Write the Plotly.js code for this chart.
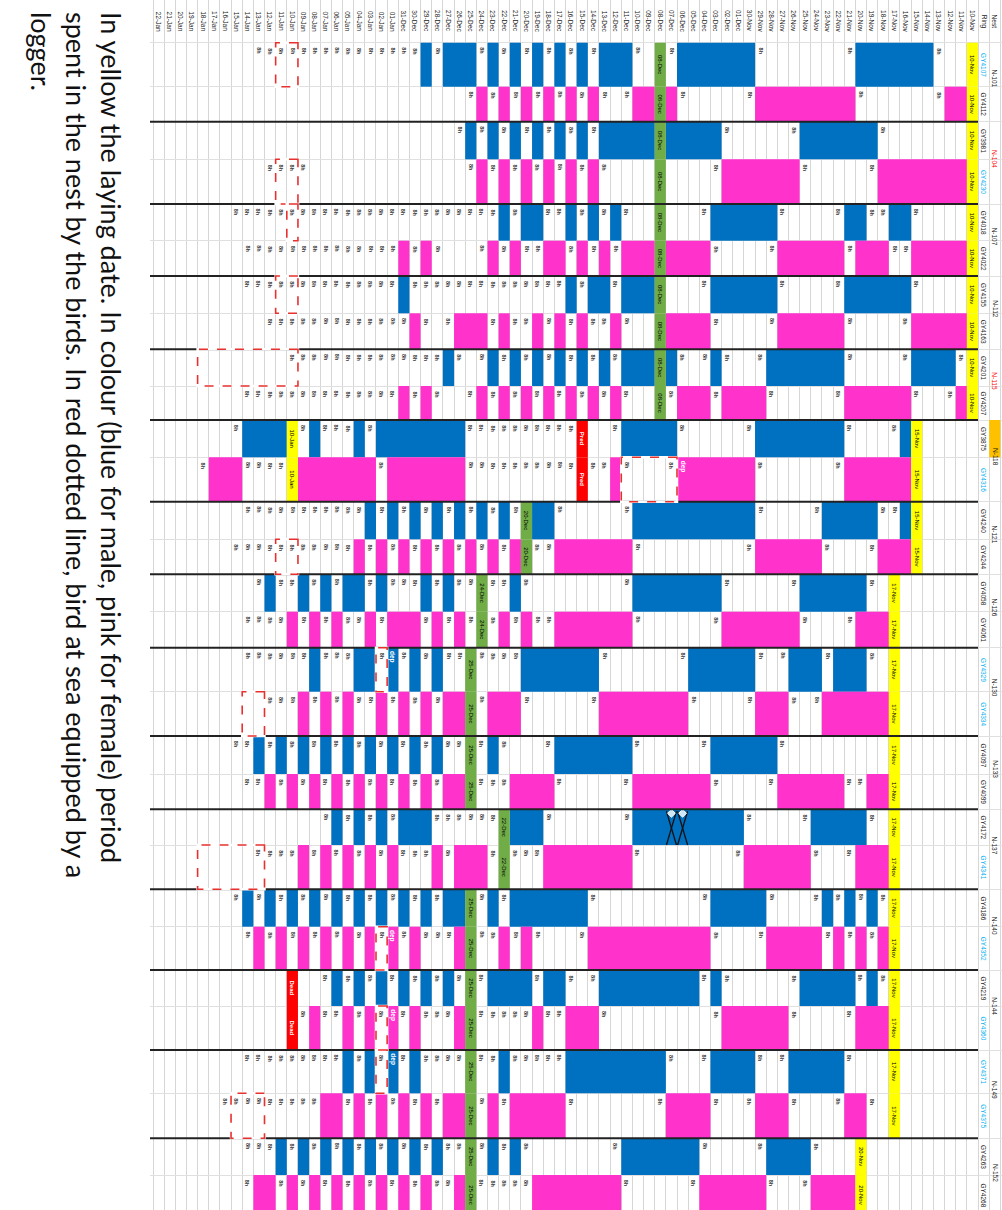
<!DOCTYPE html>
<html>
<head>
<meta charset="utf-8">
<script src="https://cdn.plot.ly/plotly-3.0.1.min.js"></script>
<style>html,body{margin:0;padding:0;background:#fff;}#chart{width:1002px;height:1210px;}</style>
</head>
<body>
<div id="chart"></div>
<script>
// ---------------- DATA ----------------
// Day columns (index 0 = first laying column, time runs towards higher index)
const DATES = [
"10-Nov","11-Nov","12-Nov","13-Nov","14-Nov","15-Nov","16-Nov","17-Nov","18-Nov","19-Nov",
"20-Nov","21-Nov","22-Nov","23-Nov","24-Nov","25-Nov","26-Nov","27-Nov","28-Nov","29-Nov",
"30-Nov","01-Dec","02-Dec","03-Dec","04-Dec","05-Dec","06-Dec","07-Dec","08-Dec","09-Dec",
"10-Dec","11-Dec","12-Dec","13-Dec","14-Dec","15-Dec","16-Dec","17-Dec","18-Dec","19-Dec",
"20-Dec","21-Dec","22-Dec","23-Dec","24-Dec","25-Dec","26-Dec","27-Dec","28-Dec","29-Dec",
"30-Dec","31-Dec","01-Jan","02-Jan","03-Jan","04-Jan","05-Jan","06-Jan","07-Jan","08-Jan",
"09-Jan","10-Jan","11-Jan","12-Jan","13-Jan","14-Jan","15-Jan","16-Jan","17-Jan","18-Jan",
"19-Jan","20-Jan","21-Jan","22-Jan"
];

// One nest per band: male row then female row
const NEST_IDS = ["N-101","N-104","N-107","N-112","N-115","N-118","N-121","N-126","N-130","N-133","N-137","N-140","N-144","N-149","N-152"];
const NEST_ID_RED = [false,true,false,false,true,false,false,false,false,false,false,false,false,false,false];
const NEST_ID_ORANGE = [false,false,false,false,false,true,false,false,false,false,false,false,false,false,false];
const BIRD_IDS = [
"GY4107","GY4112","GY3981","GY4230","GY4018","GY4022","GY4155","GY4163","GY4201","GY4207",
"GY3875","GY4316","GY4240","GY4244","GY4058","GY4061","GY4329","GY4334","GY4097","GY4099",
"GY4172","GY4341","GY4186","GY4352","GY4219","GY4360","GY4371","GY4375","GY4263","GY4268"
];
const BIRD_ID_LOGGER = [true,false,false,true,false,false,false,false,false,false,
                        false,true,false,false,false,false,true,true,false,false,
                        false,true,false,true,false,true,true,true,false,false];

// Laying date column(s) per nest, hatching column per nest (null = failed)
const LAYING = [[0],[0],[0],[0],[0],[5,61],[5],[7],[7],[7],[7],[7],[7],[7],[10]];
const HATCH  = [28,28,28,28,28,null,40,44,45,45,42,45,45,45,45];

// Periods in the nest [from, to] (day columns, inclusive)
const MALE = [
 [[4,10],[20,26],[31,33],[35,35],[37,37],[39,39],[41,41],[43,43],[45,47],[49,49]],
 [[9,15],[23,27],[29,33],[35,35],[37,37],[39,39],[41,41],[43,43],[45,45]],
 [[6,7],[10,11],[18,23],[32,32],[34,34],[36,36],[39,40],[42,42]],
 [[6,11],[18,23],[29,31],[33,34],[36,36],[51,51]],
 [[2,5],[12,18],[23,23],[27,27],[29,31],[33,33],[35,35],[37,37],[39,39],[41,41],[43,43],[47,47]],
 [[6,6],[12,19],[27,31],[46,53],[55,55],[59,59],[62,65]],
 [[6,6],[9,13],[20,30],[38,39],[42,42],[44,44],[46,46],[48,48],[50,50],[52,52],[54,54]],
 [[10,15],[23,30],[41,41],[47,47],[49,49],[53,53],[55,56],[58,58],[60,60],[63,63]],
 [[10,12],[14,16],[20,25],[34,40],[48,48],[50,50],[52,52],[54,55],[59,59]],
 [[18,23],[31,37],[43,43],[48,48],[50,50],[52,52],[54,54],[56,56],[58,58],[60,60],[62,62],[64,64]],
 [[10,14],[21,30],[39,41],[49,51],[53,53],[55,55],[57,57]],
 [[9,9],[11,11],[13,13],[19,23],[35,41],[43,43],[46,47],[49,49],[51,51],[53,53],[55,55],[57,57],[59,59],[61,61],[63,63],[65,65]],
 [[9,9],[11,15],[23,23],[25,33],[37,38],[40,43],[47,47],[49,49],[51,51],[53,53],[55,55],[57,57]],
 [[12,16],[20,23],[28,36],[42,42],[50,50],[52,52],[54,54],[56,56]],
 [[15,18],[25,31],[41,41],[43,43],[48,48],[50,50],[52,52],[54,54],[56,56],[58,58],[60,60],[62,62]]
];
const FEMALE = [
 [[1,2],[11,19],[27,27],[29,30],[34,34],[36,36],[38,38],[40,40],[42,42],[44,44]],
 [[1,8],[16,22],[34,34],[36,36],[38,38],[40,40],[42,42],[44,44]],
 [[1,5],[8,10],[12,17],[24,27],[29,31],[33,33],[35,35],[37,38],[41,41],[43,43],[49,49],[51,51]],
 [[1,5],[12,17],[24,27],[32,32],[35,35],[37,37],[39,39],[42,42],[44,46],[50,50]],
 [[1,1],[6,11],[19,22],[24,26],[32,32],[34,34],[36,36],[38,38],[40,40],[42,42],[44,44],[49,49],[51,51]],
 [[6,11],[20,26],[32,32],[46,52],[54,60],[66,68]],
 [[6,8],[14,19],[31,37],[41,41],[43,43],[45,45],[47,47],[49,49],[51,51],[53,53],[55,55]],
 [[8,10],[16,22],[31,37],[40,40],[42,42],[46,46],[48,48],[50,52],[54,54],[57,57],[59,59],[61,61]],
 [[8,13],[17,19],[26,33],[41,43],[46,47],[49,49],[51,51],[53,53],[56,56],[58,58],[60,60]],
 [[8,9],[12,17],[24,30],[38,41],[46,47],[49,49],[51,51],[53,53],[55,55],[57,57],[59,59],[61,61],[63,63]],
 [[8,10],[15,20],[31,38],[44,46],[48,48],[52,52],[54,54],[56,56],[58,58],[60,60]],
 [[8,8],[10,10],[12,12],[14,18],[24,34],[40,40],[42,42],[46,46],[50,50],[52,52],[54,54],[56,56],[58,58],[60,60],[62,62],[64,64]],
 [[8,10],[17,22],[34,36],[39,39],[46,46],[50,50],[52,52],[54,54],[56,56],[59,59]],
 [[10,11],[17,19],[24,27],[37,41],[43,43],[46,47],[49,49],[51,51],[53,53],[55,55],[57,58]],
 [[11,14],[19,24],[32,39],[46,46],[49,49],[51,51],[53,53],[55,55],[57,57],[59,59],[61,61],[63,64]]
];

// Days with a written nest check, per bird row (male, female of each nest): [from, to] or null
const CHECK_SPAN = [
 [50,64], null, null, [60,63], [43,66], [52,65], [37,65], [51,63], [48,61], [52,65],
 [36,66], [33,65], [38,65], [38,66], [40,64], [38,65], [38,65], [40,63], [42,66], [42,65],
 [42,57], [39,64], [42,66], [39,65], [37,58], [38,60], [37,65], [37,67], [40,65], [40,65]
];
const CHECK_NOTE = "8h";

// Bird at sea with a logger: [nest, sex, from, to]
const AT_SEA = [
 [0,"M",61,62],[1,"F",61,62],[2,"M",61,61],[3,"M",61,62],[4,"M",61,69],
 [5,"F",27,31],[6,"F",61,62],[8,"M",53,53],[8,"F",64,65],[10,"F",64,69],
 [11,"F",53,53],[12,"F",53,53],[13,"M",53,53],[13,"F",64,66]
];
// Logger deployment notes: [nest, sex, day]
const DEP = [[5,"F",26],[8,"M",52],[11,"F",52],[12,"F",52],[13,"M",52]];
// Failures: [nest, day, label]
const EVENTS = [[5,35,"Pred"],[12,61,"Dead"]];
// Crossed-out days: [nest, sex, days]
const CROSSED = [[10,"M",[26,27]]];

const CAPTION = "In yellow the laying date. In colour (blue for male, pink for female) period<br>spent in the nest by the birds. In red dotted line, bird at sea equipped by a<br>logger.";

// ---------------- LAYOUT CONSTANTS ----------------
const HEADER_H = 42.7;
const ROW_H = [44,35,37.6,44.7,36.7,35.3,37.3,36,36.7,34,37.3,44.4,37.6,35,37.4,36,44,44.3,38,35.3,35.7,44.3,37.4,43.3,36,44,43.3,45,36.7,40];
const X_LEFT = 73.77, X_RIGHT = -2.65;
const C_BLUE = "#0070C0", C_PINK = "#FF33CC", C_YEL = "#FFFF00", C_GREEN = "#70AD47",
      C_RED = "#FF0000", C_ORANGE = "#FFC000", C_CYAN = "#00B0F0";
const TXT_FONT = "Liberation Sans, Arial, sans-serif";

const rowTop = []; { let a = HEADER_H; for (const h of ROW_H) { rowTop.push(a); a += h; } }
const rowMid = r => rowTop[r] + ROW_H[r] / 2;
const rowOf = (n, s) => 2 * n + (s === "M" ? 0 : 1);

function cellTrace(items, color, textColor, bold) {
  return {
    type: "bar", orientation: "h",
    y: items.map(d => d.y), width: items.map(d => d.h),
    base: items.map(d => d.a - 0.5), x: items.map(d => d.b - d.a + 1),
    marker: { color: color, line: { width: 0 } },
    text: items.map(d => d.t || ""),
    textposition: "inside", insidetextanchor: "middle", textangle: 90,
    constraintext: "none", cliponaxis: false,
    textfont: { size: 6, color: textColor, family: TXT_FONT, weight: bold ? 700 : 400 },
    hoverinfo: "skip", showlegend: false
  };
}
const rowItem = (r, a, b, t) => ({ y: rowMid(r), h: ROW_H[r], a, b, t });

const maleItems = [], femItems = [], layItems = [], hatchItems = [], evItems = [], orangeItems = [];
MALE.forEach((list, n) => list.forEach(([a, b]) => maleItems.push(rowItem(2 * n, a, b))));
FEMALE.forEach((list, n) => list.forEach(([a, b]) => femItems.push(rowItem(2 * n + 1, a, b))));
LAYING.forEach((list, n) => list.forEach(c => { layItems.push(rowItem(2 * n, c, c, DATES[c])); layItems.push(rowItem(2 * n + 1, c, c, DATES[c])); }));
HATCH.forEach((c, n) => { if (c !== null) { hatchItems.push(rowItem(2 * n, c, c, DATES[c])); hatchItems.push(rowItem(2 * n + 1, c, c, DATES[c])); } });
EVENTS.forEach(([n, c, lab]) => { evItems.push(rowItem(2 * n, c, c, lab)); evItems.push(rowItem(2 * n + 1, c, c, lab)); });
NEST_ID_ORANGE.forEach((f, n) => { if (f) orangeItems.push(rowItem(2 * n, -2, -2)); });

const traces = [
  cellTrace(maleItems, C_BLUE, "#000"),
  cellTrace(femItems, C_PINK, "#000"),
  cellTrace(layItems, C_YEL, "#000"),
  cellTrace(hatchItems, C_GREEN, "#000"),
  cellTrace(evItems, C_RED, "#fff", true),
  cellTrace(orangeItems, C_ORANGE, "#000")
];

// crossed-out marks
CROSSED.forEach(([n, s, days]) => {
  const r = rowOf(n, s), xs = [], ys = [];
  days.forEach(c => {
    xs.push(c + 0.45, c - 0.45, null, c - 0.45, c + 0.45, null);
    ys.push(rowTop[r] + ROW_H[r], rowTop[r] + 2, null, rowTop[r] + ROW_H[r], rowTop[r] + 2, null);
  });
  traces.push({ type: "scatter", mode: "lines", x: xs, y: ys, line: { color: "#111", width: 1.3 }, hoverinfo: "skip", showlegend: false });
  traces.push({ type: "scatter", mode: "markers", x: days, y: days.map(() => rowTop[r] + 4),
    marker: { color: "#cfe8f7", size: 6, symbol: "diamond", line: { color: "#fff", width: 1 } }, hoverinfo: "skip", showlegend: false });
});

// ---------------- SHAPES ----------------
const shapes = [];
for (let n = 1; n < NEST_IDS.length; n++) {
  shapes.push({ type: "line", xref: "x", yref: "y", x0: 75, x1: -0.5, y0: rowTop[2 * n], y1: rowTop[2 * n], line: { color: "#222", width: 2 } });
}
AT_SEA.forEach(([n, s, a, b]) => {
  const r = rowOf(n, s);
  shapes.push({ type: "rect", xref: "x", yref: "y", x0: a - 0.5, x1: b + 0.5, y0: rowTop[r], y1: rowTop[r] + ROW_H[r],
    line: { color: "#fff", width: 2.5 }, fillcolor: "rgba(0,0,0,0)" });
  shapes.push({ type: "rect", xref: "x", yref: "y", x0: a - 0.5, x1: b + 0.5, y0: rowTop[r], y1: rowTop[r] + ROW_H[r],
    line: { color: "#E8312F", width: 1.6, dash: "dash" }, fillcolor: "rgba(0,0,0,0)" });
});

// ---------------- ANNOTATIONS ----------------
const ann = [];
const small = (color, size, weight) => ({ size: size || 6.5, color: color || "#222", family: TXT_FONT, weight: weight || 400 });
DATES.forEach((d, c) => ann.push({ x: c, y: HEADER_H / 2, xref: "x", yref: "y", text: d, textangle: 90, showarrow: false, font: small() }));
ann.push({ x: -1, y: HEADER_H / 2, xref: "x", yref: "y", text: "Ring", textangle: 90, showarrow: false, font: small() });
ann.push({ x: -2, y: HEADER_H / 2, xref: "x", yref: "y", text: "Nest", textangle: 90, showarrow: false, font: small() });
BIRD_IDS.forEach((id, r) => ann.push({ x: -1, y: rowMid(r), xref: "x", yref: "y", text: id, textangle: 90, showarrow: false,
  font: small(BIRD_ID_LOGGER[r] ? C_CYAN : "#222") }));
NEST_IDS.forEach((id, n) => ann.push({ x: -2, y: rowTop[2 * n] + 0.45 * (ROW_H[2 * n] + ROW_H[2 * n + 1]), xref: "x", yref: "y", text: id, textangle: 90, showarrow: false,
  font: small(NEST_ID_RED[n] ? C_RED : "#222") }));
DEP.forEach(([n, s, c]) => { const r = rowOf(n, s); ann.push({ x: c, y: rowTop[r] + 9, xref: "x", yref: "y", text: "dep", textangle: 90, showarrow: false,
  font: small("#fff", 6.5, 700) }); });

// nest-check notes in the empty cells that border each stay, and over the written spans
function occupied(n, sex, c) {
  const list = sex === "M" ? MALE[n] : FEMALE[n];
  if (list.some(([a, b]) => c >= a && c <= b)) return true;
  if (LAYING[n].includes(c) || HATCH[n] === c) return true;
  if (EVENTS.some(([en, ec]) => en === n && ec === c)) return true;
  return false;
}
for (let n = 0; n < NEST_IDS.length; n++) {
  ["M", "F"].forEach(sex => {
    const r = rowOf(n, sex), days = new Set();
    (sex === "M" ? MALE[n] : FEMALE[n]).forEach(([a, b]) => { days.add(a - 1); days.add(b + 1); });
    const sp = CHECK_SPAN[r];
    if (sp) for (let c = sp[0]; c <= sp[1]; c++) days.add(c);
    days.forEach(c => {
      if (c <= LAYING[n][0] || c > 73 || occupied(n, sex, c)) return;
      ann.push({ x: c, y: rowTop[r] + 3, yanchor: "top", xref: "x", yref: "y", text: CHECK_NOTE, textangle: 90, showarrow: false,
        font: small("#333", 5.5, 700) });
    });
  });
}

ann.push({ xref: "paper", yref: "paper", x: -0.086, y: 0.992, xanchor: "center", yanchor: "top", text: CAPTION, textangle: 90,
  showarrow: false, align: "left", font: { size: 27, color: "#111", family: "Lato, Open Sans, sans-serif" } });

// ---------------- GRID ----------------
const vgrid = []; for (let c = -3; c <= 75; c++) vgrid.push(c + 0.5);
const hgrid = [HEADER_H].concat(rowTop.slice(1), [rowTop[ROW_H.length - 1] + ROW_H[ROW_H.length - 1]]);

const layout = {
  width: 1002, height: 1210,
  margin: { l: 150, r: 0, t: 0, b: 0, pad: 0 },
  paper_bgcolor: "#fff", plot_bgcolor: "#fff",
  barmode: "overlay", showlegend: false,
  xaxis: { range: [X_LEFT, X_RIGHT], tickvals: vgrid, showticklabels: false, ticks: "", showgrid: true,
           gridcolor: "#d6d6d6", gridwidth: 1, zeroline: false, showline: false, fixedrange: true },
  yaxis: { range: [1210, 0], tickvals: hgrid, showticklabels: false, ticks: "", showgrid: true,
           gridcolor: "#e0e0e0", gridwidth: 1, zeroline: false, showline: false, fixedrange: true },
  shapes: shapes, annotations: ann
};
Plotly.newPlot("chart", traces, layout, { staticPlot: true, displayModeBar: false });
</script>
</body>
</html>
